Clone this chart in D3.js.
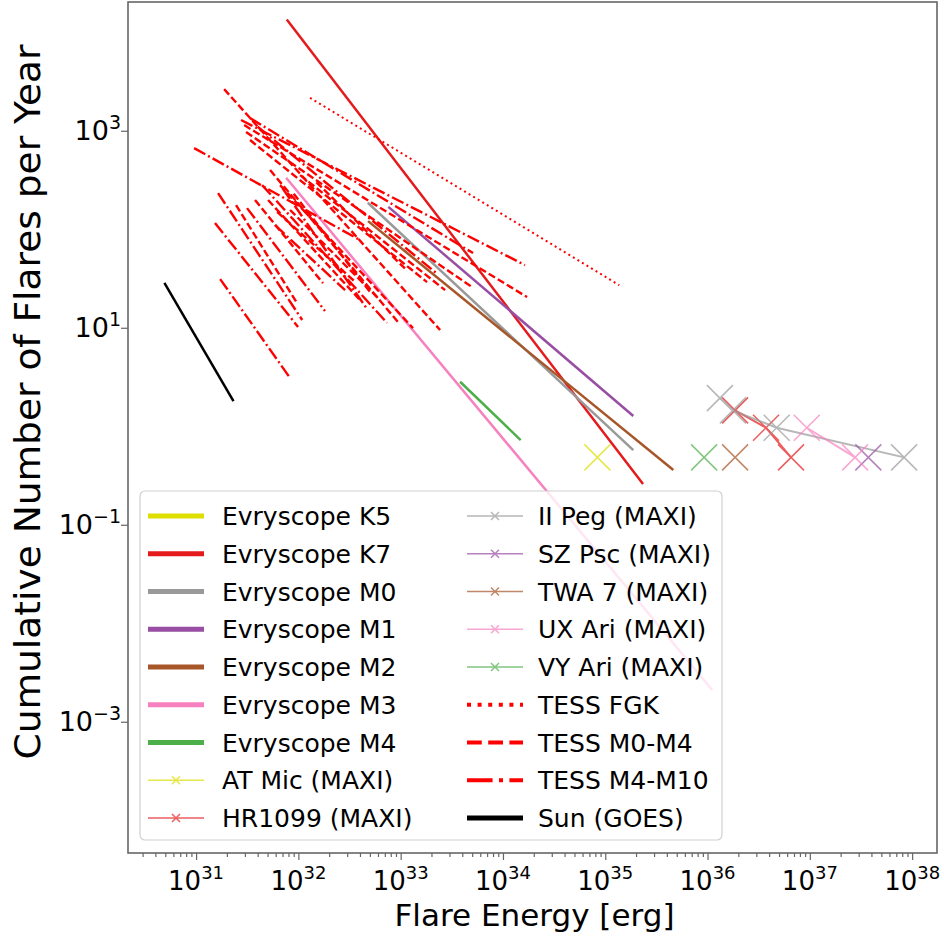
<!DOCTYPE html>
<html><head><meta charset="utf-8">
<script src="https://cdn.jsdelivr.net/npm/d3@7"></script>
<style>body{margin:0;background:#fff}text{font-family:"DejaVu Sans",sans-serif;fill:#000}</style>
</head><body>
<svg id="chart" width="944" height="938"></svg>
<script>
// ---------------- data ----------------
const xLim = [2.16e30, 1.75e38];
const yLim = [4.65e-5, 2.03e4];
const xMajorTicks = [1e31, 1e32, 1e33, 1e34, 1e35, 1e36, 1e37, 1e38];
const xTickExponents = ["31", "32", "33", "34", "35", "36", "37", "38"];
const yMajorTicks = [1e-3, 1e-1, 1e1, 1e3];
const yTickExponents = ["\u22123", "\u22121", "1", "3"];

const evryLabels = ["Evryscope K5", "Evryscope K7", "Evryscope M0", "Evryscope M1", "Evryscope M2", "Evryscope M3", "Evryscope M4"];
const evryEnergy = [[], [7.7e31, 2.34e35], [4.77e32, 1.88e35], [7.58e32, 1.88e35], [4.80e32, 4.63e35], [7.59e31, 1.11e36], [3.81e33, 1.49e34]];
const evryRate   = [[], [13520, 0.259], [186, 0.573], [169, 1.27], [121, 0.359], [333, 0.0021], [2.83, 0.724]];

const maxiLabels = ["AT Mic (MAXI)", "HR1099 (MAXI)", "II Peg (MAXI)", "SZ Psc (MAXI)", "TWA 7 (MAXI)", "UX Ari (MAXI)", "VY Ari (MAXI)"];
const maxiEnergy = [[8.38e34], [1.86e36, 3.73e36, 6.55e36], [1.32e36, 1.77e36, 4.74e36, 8.34e37], [3.73e37], [1.86e36], [9.33e36, 2.77e37], [9.25e35]];
const maxiRate   = [[0.483], [1.449, 0.966, 0.483], [1.932, 1.449, 0.966, 0.483], [0.483], [0.483], [0.966, 0.483], [0.483]];

const tessFgkEnergy = [[1.30e32, 1.37e35]];
const tessFgkRate   = [[2163, 27.1]];
const tessM0M4Energy = [[1.88e31, 2.43e33], [2.95e31, 1.72e34], [3.08e31, 4.99e33], [2.46e31, 9.71e31], [3.77e31, 1.74e32], [3.37e31, 1.81e33], [5.29e31, 9.44e32], [6.62e31, 1.32e33], [5.06e31, 4.01e32], [1.04e32, 2.72e33], [8.3e31, 6.29e32], [6.2e31, 3.5e32], [9.0e31, 5.2e32], [1.5e32, 1.1e33]];
const tessM0M4Rate   = [[2650, 9.48], [1143, 20.5], [970, 25.9], [176, 17.8], [198, 28.4], [805, 29.1], [399, 11.4], [281, 9.93], [198, 19.1], [355, 24.1], [157, 19.1], [150, 30], [230, 22], [300, 40]];
const tessM4M10Energy = [[2.75e31, 1.64e34], [9.56e30, 4.01e32], [1.53e31, 9.93e31], [1.72e31, 8.3e31], [1.64e31, 1.09e32], [3.15e31, 1.82e32], [3.37e31, 5.1e33], [4.42e31, 7.36e32], [5.92e31, 2.86e32], [7.0e31, 4.6e32], [4.0e31, 2.3e33]];
const tessM4M10Rate   = [[1285, 43.3], [667, 77.6], [115.6, 10.2], [31.2, 3.09], [233, 12.0], [164, 14.8], [1345, 57.3], [281, 11.2], [110, 24.1], [260, 16], [1100, 35]];
const tessLabels = ["TESS FGK", "TESS M0-M4", "TESS M4-M10"];

const sunLabel = "Sun (GOES)";
const sunEnergy = [4.9e30, 2.32e31];
const sunRate   = [28.6, 1.80];

const xLabel = "Flare Energy [erg]";
const yLabel = "Cumulative Number of Flares per Year";

// ---------------- styles ----------------
const set1 = ["#dede00", "#e41a1c", "#999999", "#984ea3", "#a65628", "#f781bf", "#4daf4a"];
const tessRed = "#ff0000";
const P = {left: 128, right: 937, top: 2, bottom: 853};

const svg = d3.select("#chart");
const x = d3.scaleLog().domain(xLim).range([P.left, P.right]);
const y = d3.scaleLog().domain(yLim).range([P.bottom, P.top]);
const line = d3.line().x(d => x(d[0])).y(d => y(d[1]));
const zip = (a, b) => a.map((v, i) => [v, b[i]]);

svg.append("defs").append("clipPath").attr("id", "clip").append("rect")
  .attr("x", P.left).attr("y", P.top).attr("width", P.right - P.left).attr("height", P.bottom - P.top);
const g = svg.append("g").attr("clip-path", "url(#clip)");

// Evryscope
evryEnergy.forEach((e, i) => {
  if (!e.length) return;
  g.append("path").attr("d", line(zip(e, evryRate[i]))).attr("fill", "none")
    .attr("stroke", set1[i]).attr("stroke-width", 2.5);
});
// MAXI
const xMark = s => `M${-s},${-s}L${s},${s}M${-s},${s}L${s},${-s}`;
maxiEnergy.forEach((e, i) => {
  const pts = zip(e, maxiRate[i]);
  const grp = g.append("g").attr("opacity", 0.7);
  if (pts.length > 1) grp.append("path").attr("d", line(pts)).attr("fill", "none")
    .attr("stroke", set1[i]).attr("stroke-width", 2);
  grp.selectAll("path.m").data(pts).enter().append("path").attr("class", "m")
    .attr("transform", d => `translate(${x(d[0])},${y(d[1])})`)
    .attr("d", xMark(13)).attr("stroke", set1[i]).attr("stroke-width", 1.5).attr("fill", "none");
});
// TESS
const dashes = {fgk: "2,3.3", m04: "7.4,3.2", m410: "12.8,3.2,2,3.2"};
tessFgkEnergy.forEach((e, i) => g.append("path").attr("d", line(zip(e, tessFgkRate[i])))
  .attr("fill", "none").attr("stroke", tessRed).attr("stroke-width", 2).attr("stroke-dasharray", dashes.fgk));
tessM0M4Energy.forEach((e, i) => g.append("path").attr("d", line(zip(e, tessM0M4Rate[i])))
  .attr("fill", "none").attr("stroke", tessRed).attr("stroke-width", 2.4).attr("stroke-dasharray", dashes.m04));
tessM4M10Energy.forEach((e, i) => g.append("path").attr("d", line(zip(e, tessM4M10Rate[i])))
  .attr("fill", "none").attr("stroke", tessRed).attr("stroke-width", 2.4).attr("stroke-dasharray", dashes.m410));
// Sun
g.append("path").attr("d", line(zip(sunEnergy, sunRate))).attr("fill", "none")
  .attr("stroke", "#000").attr("stroke-width", 2.5);

// ---------------- axes ----------------
const spineColor = "#666";
const xMinor = [];
for (let p = 30; p <= 38; p++) for (let m = 2; m <= 9; m++) { const v = m * Math.pow(10, p); if (v > xLim[0] && v < xLim[1]) xMinor.push(v); }
const xAxisMinor = svg.append("g").attr("transform", `translate(0,${P.bottom})`)
  .call(d3.axisBottom(x).tickValues(xMinor).tickFormat("").tickSize(4).tickSizeOuter(0));
const xAxisMajor = svg.append("g").attr("transform", `translate(0,${P.bottom})`)
  .call(d3.axisBottom(x).tickValues(xMajorTicks).tickFormat("").tickSize(7).tickSizeOuter(0));
const yAxis = svg.append("g").attr("transform", `translate(${P.left},0)`)
  .call(d3.axisLeft(y).tickValues(yMajorTicks).tickFormat("").tickSize(7).tickSizeOuter(0));
[xAxisMinor, xAxisMajor, yAxis].forEach(a => {
  a.select(".domain").remove();
  a.selectAll("line").attr("stroke", spineColor).attr("stroke-width", 1.2);
});
svg.append("rect").attr("x", P.left).attr("y", P.top).attr("width", P.right - P.left).attr("height", P.bottom - P.top)
  .attr("fill", "none").attr("stroke", spineColor).attr("stroke-width", 1.6);

xMajorTicks.forEach((v, i) => {
  const t = svg.append("text").attr("x", x(v)).attr("y", 890).attr("text-anchor", "middle").attr("font-size", 26);
  t.append("tspan").text("10");
  t.append("tspan").attr("dy", -11).attr("font-size", 18).text(xTickExponents[i]);
});
yMajorTicks.forEach((v, i) => {
  const t = svg.append("text").attr("x", 121).attr("y", y(v) + 9).attr("text-anchor", "end").attr("font-size", 27);
  t.append("tspan").text("10");
  t.append("tspan").attr("dy", -11).attr("font-size", 19).text(yTickExponents[i]);
});
svg.append("text").attr("x", (P.left + P.right) / 2 + 2).attr("y", 926).attr("text-anchor", "middle")
  .attr("font-size", 31).text(xLabel);
svg.append("text").attr("transform", `translate(40,402) rotate(-90)`)
  .attr("text-anchor", "middle").attr("font-size", 36).attr("textLength", 715).attr("lengthAdjust", "spacingAndGlyphs").text(yLabel);

// ---------------- legend ----------------
const L = {x: 140, y: 491, w: 582, h: 349, row: 37.75, first: 516};
svg.append("rect").attr("x", L.x).attr("y", L.y).attr("width", L.w).attr("height", L.h).attr("rx", 5)
  .attr("fill", "#fff").attr("fill-opacity", 0.8).attr("stroke", "#d0d0d0").attr("stroke-width", 1.2);
const entries = [];
evryLabels.forEach((l, i) => entries.push({label: l, color: set1[i], w: 5}));
maxiLabels.forEach((l, i) => entries.push({label: l, color: set1[i], w: 1.5, marker: true}));
entries.push({label: tessLabels[0], color: tessRed, w: 4, dash: "4,6.6"});
entries.push({label: tessLabels[1], color: tessRed, w: 4, dash: "14.8,6.4"});
entries.push({label: tessLabels[2], color: tessRed, w: 4, dash: "25.6,6.4,4,6.4"});
entries.push({label: sunLabel, color: "#000", w: 5});
entries.forEach((en, k) => {
  const col = Math.floor(k / 9), row = k % 9;
  const hx = col === 0 ? 148 : 467, tx = col === 0 ? 222 : 538;
  const cy = L.first + row * L.row;
  const grp = svg.append("g").attr("opacity", en.marker ? 0.7 : 1);
  grp.append("line").attr("x1", hx).attr("x2", hx + 56).attr("y1", cy).attr("y2", cy)
    .attr("stroke", en.color).attr("stroke-width", en.w).attr("stroke-dasharray", en.dash || null);
  if (en.marker) grp.append("path").attr("transform", `translate(${hx + 28},${cy})`).attr("d", xMark(4))
    .attr("stroke", en.color).attr("stroke-width", 1.5);
  svg.append("text").attr("x", tx).attr("y", cy + 9).attr("font-size", 25).text(en.label);
});
</script>
</body></html>
